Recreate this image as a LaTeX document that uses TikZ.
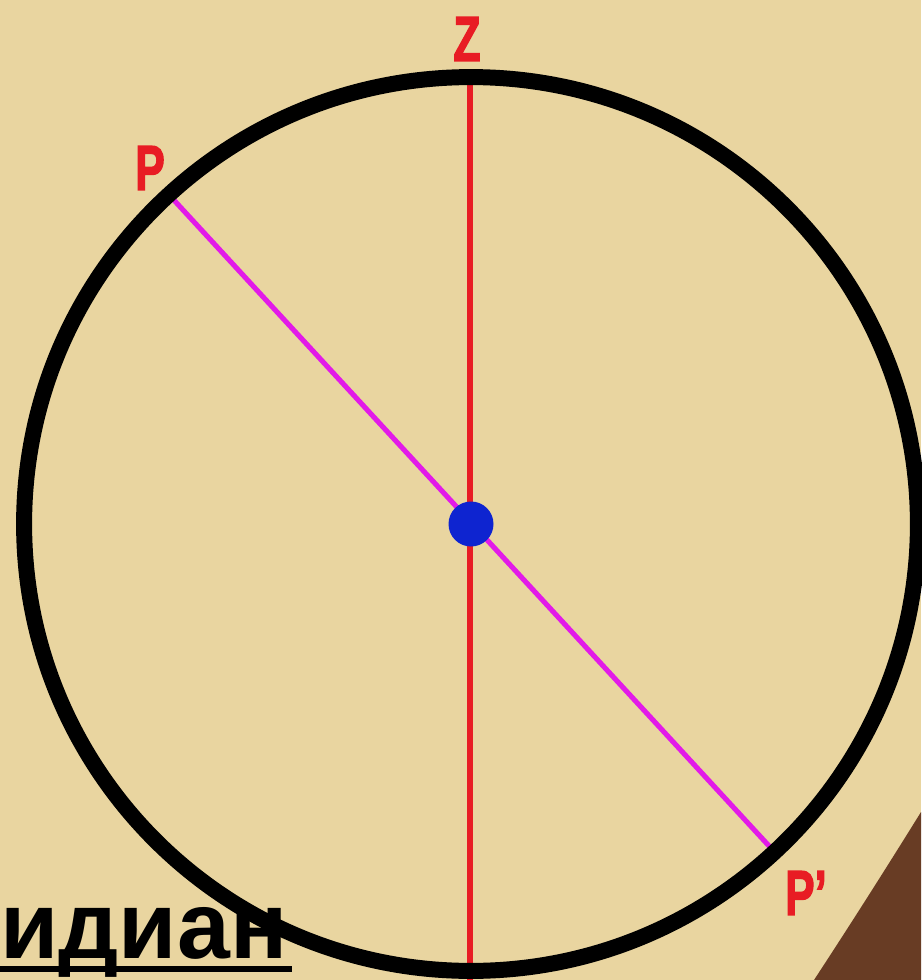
\documentclass[tikz,border=0pt]{standalone}
\usepackage{fontspec}
\setmainfont{Liberation Sans}
\newfontfamily\lblfont[FakeBold=2.5]{Liberation Sans Bold}
\usetikzlibrary{calc}
\definecolor{paper}{RGB}{233,213,160}
\definecolor{bark}{RGB}{104,60,36}
\definecolor{zred}{RGB}{232,28,36}
\definecolor{pmag}{RGB}{226,26,232}
\definecolor{dotblue}{RGB}{14,36,208}

\begin{document}
\begin{tikzpicture}[x=0.02cm, y=-0.02cm,
        lbl/.style={font=\fontsize{36}{36}\lblfont, text=zred, xscale=0.70, inner sep=0pt},
        axis/.style={line width=2.9pt, draw=zred},
        diam/.style={line width=2.9pt, draw=pmag},
    ]
    % ---- Paper background ----
    \fill[paper] (0,0) rectangle (921,980);
    \useasboundingbox (0,0) rectangle (921,980);
    \fill[bark] (921,812) .. controls (885,870) and (850,925) .. (814,980) -- (921,980) -- cycle;

    % ---- Points on the circle ----
    \coordinate (O) at (471,524);
    \coordinate (Ztop) at (470,80);
    \coordinate (Zbot) at (470,980);
    \coordinate (P) at (172,198);
    \coordinate (Pp) at (770,847);

    % ---- Lines ----
    \draw[axis] (Ztop) -- (Zbot);
    \draw[diam] (P) -- (Pp);
    \draw[line width=9.1pt] (O) circle[radius=8.94cm];
    \fill[dotblue] (O) circle[radius=0.45cm];

    % ---- Labels ----
    \node[lbl] (zlab) at (467,39) {Z};
    \node[lbl] (plab) at (150,168) {P};
    \node[lbl] (pplab) at (806,893) {P’};

    \node[anchor=base west, inner sep=0pt, font=\fontsize{54}{54}\selectfont\bfseries] (word) at (0,958) {идиан};
    \fill ($(word.base west)+(0,8)$) rectangle ($(word.base east)+(4,14)$);
\end{tikzpicture}
\end{document}
